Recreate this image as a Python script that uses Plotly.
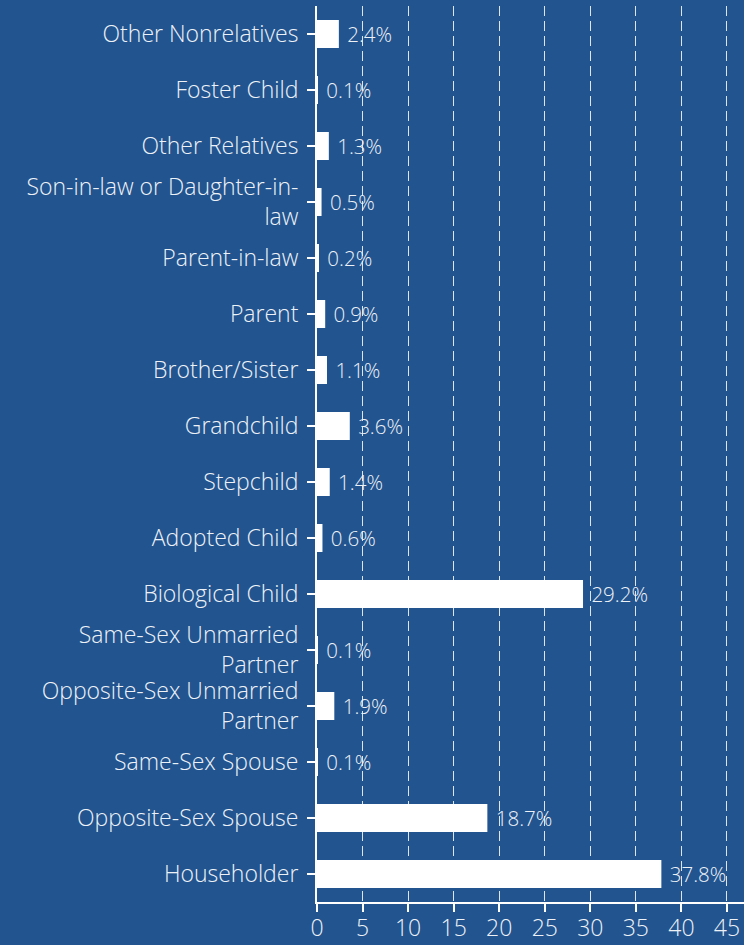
import plotly.graph_objects as go

categories = [
    "Householder",
    "Opposite-Sex Spouse",
    "Same-Sex Spouse",
    "Opposite-Sex Unmarried<br>Partner",
    "Same-Sex Unmarried<br>Partner",
    "Biological Child",
    "Adopted Child",
    "Stepchild",
    "Grandchild",
    "Brother/Sister",
    "Parent",
    "Parent-in-law",
    "Son-in-law or Daughter-in-<br>law",
    "Other Relatives",
    "Foster Child",
    "Other Nonrelatives",
]
values = [37.8, 18.7, 0.1, 1.9, 0.1, 29.2, 0.6, 1.4, 3.6, 1.1, 0.9, 0.2, 0.5, 1.3, 0.1, 2.4]
labels = [" %.1f%%" % v for v in values]
x_ticks = [0, 5, 10, 15, 20, 25, 30, 35, 40, 45]

BG = "#22548f"
TXT = "#eef2f7"
FONT = "Open Sans, Lato, sans-serif"

fig = go.Figure(
    go.Bar(
        y=categories,
        x=values,
        orientation="h",
        marker=dict(color="white", line=dict(width=0)),
        width=0.5,
        text=labels,
        textposition="outside",
        textfont=dict(color=TXT, size=22, family=FONT, weight=300),
        cliponaxis=False,
        hoverinfo="skip",
    )
)

fig.update_layout(
    width=744,
    height=945,
    paper_bgcolor=BG,
    plot_bgcolor=BG,
    margin=dict(l=317, r=0, t=6, b=43, autoexpand=False),
    showlegend=False,
    font=dict(family=FONT, color=TXT, size=23),
    xaxis=dict(
        range=[0, 46.87],
        tickvals=x_ticks,
        ticks="outside",
        ticklen=8,
        tickwidth=2,
        tickcolor="white",
        showline=True,
        linecolor="white",
        linewidth=2,
        showgrid=True,
        gridcolor="rgba(255,255,255,0.85)",
        griddash="10px,5px",
        gridwidth=1,
        zeroline=False,
        automargin=False,
        tickfont=dict(size=23, color=TXT, family=FONT, weight=300),
        ticklabelstandoff=-4,
        fixedrange=True,
    ),
    yaxis=dict(
        categoryorder="array",
        categoryarray=categories,
        ticks="outside",
        ticklen=8,
        tickwidth=2,
        tickcolor="white",
        showline=True,
        linecolor="white",
        linewidth=2,
        showgrid=False,
        automargin=False,
        tickfont=dict(size=23, color=TXT, family=FONT, weight=300),
        ticklabelstandoff=4,
        fixedrange=True,
    ),
)

fig.write_html(
    "out.html",
    config={"displayModeBar": False},
    post_script="document.body.style.margin='0';document.body.style.background='%s';" % BG,
)
